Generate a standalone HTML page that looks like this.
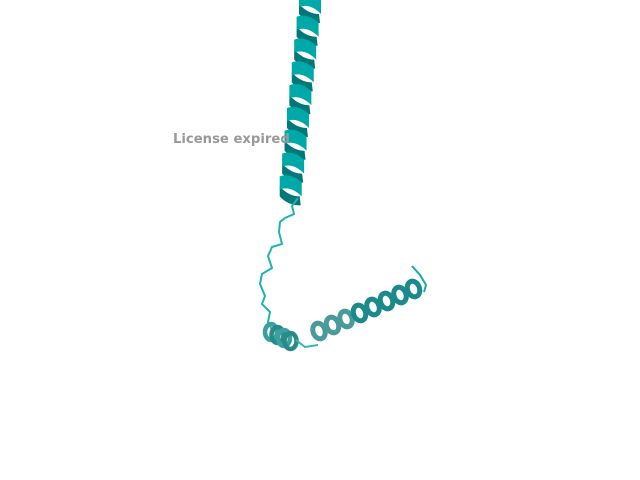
<!DOCTYPE html>
<html><head><meta charset="utf-8"><style>
html,body{margin:0;padding:0;background:#fff;width:640px;height:480px;overflow:hidden}
</style></head><body>
<svg id="s" width="640" height="480" viewBox="0 0 640 480" xmlns="http://www.w3.org/2000/svg">
<rect width="640" height="480" fill="#fff"/>
<g id="topHelix"></g>
<polyline fill="none" stroke="#1fb3b3" stroke-width="2" points="298,198 292,206 294,214 285,218 280,222 279,232 282,244 272,247 268,256 272,268 262,274 260,284 265,296 262,304 270,312 268,322 272,330"/>
<g id="smallHelix"></g>
<polyline fill="none" stroke="#2ab8b8" stroke-width="2" points="296,340 305,347 318,345"/>
<g id="botHelix"></g>
<polyline fill="none" stroke="#1aa8a8" stroke-width="2" points="412,266 420,275 426,285 424,292"/>
<text x="173" y="143" font-family="DejaVu Sans, sans-serif" font-weight="bold" font-size="13.2" fill="#999">License expired</text>
</svg>
<script>
(function(){
const NS="http://www.w3.org/2000/svg";
function add(g,tag,attrs){const e=document.createElementNS(NS,tag);for(const k in attrs)e.setAttribute(k,attrs[k]);g.appendChild(e);return e;}
const tg=document.getElementById('topHelix');
for(let i=0;i<9;i++){
  const t=i/8.3;
  const cx=310-t*20, cy=2+i*22.8;
  const q=add(tg,'path',{d:`M${cx-11},${cy+2} Q${cx-2},${cy+12} ${cx+9},${cy+12} L${cx+10},${cy+21} Q${cx-3},${cy+21} ${cx-11},${cy+12} Z`,fill:'#007878'});
  
  
  const p=add(tg,'path',{d:`M${cx-11},${cy-8} Q${cx},${cy-12} ${cx+11},${cy-2} L${cx+11},${cy+12} Q${cx},${cy+1} ${cx-11},${cy+5} Z`,fill:'#00a9a9'});
  
  
}
const sg=document.getElementById('smallHelix');
for(let i=0;i<4;i++){
  const e=add(sg,'ellipse',{cx:271+i*6.5,cy:332+i*3,rx:6,ry:8,fill:'none',stroke:i%2?'#2a8a8a':'#3aa0a0','stroke-width':4.5});
  
  
}
const bg=document.getElementById('botHelix');
for(let i=0;i<8;i++){
  const cx=319+i*13.5, cy=331-i*6;
  const e=add(bg,'ellipse',{cx:cx,cy:cy,rx:6,ry:8,fill:'none',stroke:i<3?'#4a9a9a':'#1a8a8a','stroke-width':5,transform:`rotate(-20 ${cx} ${cy})`});
  
  
}
})();
</script>
</body></html>
